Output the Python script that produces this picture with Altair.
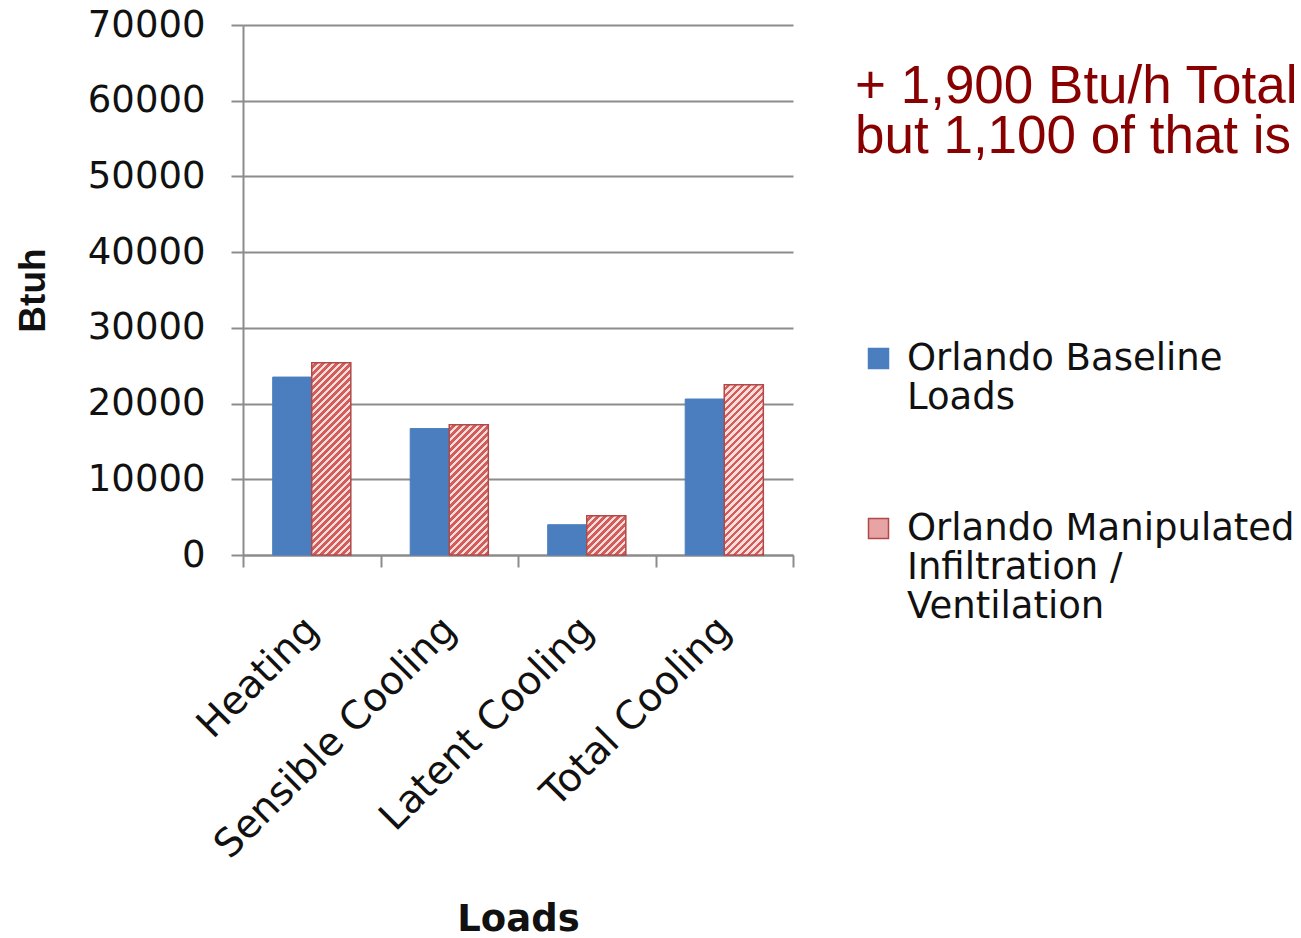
import altair as alt
import pandas as pd

# ---- data -------------------------------------------------------------
categories = ["Heating", "Sensible Cooling", "Latent Cooling", "Total Cooling"]
baseline_btuh = [23500, 16700, 4000, 20600]
manipulated_btuh = [25400, 17200, 5200, 22500]
# "|" marks a line break in the legend labels
series_names = ["Orlando Baseline|Loads", "Orlando Manipulated|Infiltration /|Ventilation"]
note_lines = ["+ 1,900 Btu/h Total", "but 1,100 of that is"]
y_ticks = [0, 10000, 20000, 30000, 40000, 50000, 60000, 70000]

# ---- layout / style ---------------------------------------------------
PLOT_W, PLOT_H = 550, 530
Y_MAX = 70000
SUB_PAD_OUTER = 0.76          # empty space on each side of a category's bar pair
BLUE = "#4a7ebf"
PINK = "#e8a3a4"
DARK_RED = "#b04a49"
STRIPE_DARK = "#d25e5c"
STRIPE_LIGHT = "#fbdcdb"
GRID = "#8c8c8c"
TEXT = "#111111"
STRIPE_PERIOD = 7.0  # px, measured horizontally

rows = []
for c, b, m in zip(categories, baseline_btuh, manipulated_btuh):
    rows.append({"category": c, "series": series_names[0], "btuh": b})
    rows.append({"category": c, "series": series_names[1], "btuh": m})
df = pd.DataFrame(rows)

# pixel width of one bar, from the band scale settings
step = PLOT_W / len(categories)
bar_w = step / (len(series_names) + 2 * SUB_PAD_OUTER)


def hatch(value):
    """Diagonal '/' hatching as a hard-stop linear gradient in bbox units."""
    w = bar_w
    h = value / Y_MAX * PLOT_H
    c = (w + h) / (w * w + h * h)
    dt = STRIPE_PERIOD / (w + h)
    stops = []
    k = 0
    while k * dt < 1:
        t0 = k * dt
        tm = min(1.0, t0 + dt * 0.5)
        t1 = min(1.0, t0 + dt)
        stops += [
            {"offset": round(t0, 5), "color": STRIPE_LIGHT},
            {"offset": round(tm, 5), "color": STRIPE_LIGHT},
            {"offset": round(tm, 5), "color": STRIPE_DARK},
            {"offset": round(t1, 5), "color": STRIPE_DARK},
        ]
        k += 1
    return {
        "gradient": "linear",
        "x1": 0, "y1": 0,
        "x2": round(c * w, 6), "y2": round(c * h, 6),
        "stops": stops,
    }


x_enc = alt.X(
    "category:N",
    sort=categories,
    scale=alt.Scale(domain=categories, paddingInner=0, paddingOuter=0),
    axis=alt.Axis(
        title="Loads",
        labelAngle=-45,
        labelAlign="right",
        labelBaseline="middle",
        labelPadding=56,
        labelLimit=600,
        tickBand="extent",
        tickSize=12,
        tickColor=GRID,
        tickWidth=2,
        domainColor=GRID,
        domainWidth=2,
        labelFont="DejaVu Sans",
        labelFontSize=39,
        labelColor=TEXT,
        titleFont="DejaVu Sans",
        titleFontWeight="bold",
        titleFontSize=37,
        titleColor=TEXT,
        titleY=375,
        titleBaseline="alphabetic",
        grid=False,
    ),
)
xoff_enc = alt.XOffset(
    "series:N",
    scale=alt.Scale(domain=series_names, paddingInner=0, paddingOuter=SUB_PAD_OUTER),
)
y_enc = alt.Y(
    "btuh:Q",
    scale=alt.Scale(domain=[0, Y_MAX], nice=False),
    axis=alt.Axis(
        title="Btuh",
        values=y_ticks,
        format="d",
        grid=True,
        gridColor=GRID,
        gridWidth=2,
        tickSize=12,
        tickColor=GRID,
        tickWidth=2,
        domainColor=GRID,
        domainWidth=2,
        labelPadding=26,
        labelFont="DejaVu Sans",
        labelFontSize=37,
        labelColor=TEXT,
        titleFont="Liberation Sans",
        titleFontWeight="bold",
        titleFontSize=37,
        titleColor=TEXT,
        titleX=-210,
        titleY=PLOT_H / 2,
        titleAlign="center",
        titleBaseline="middle",
        titleAngle=270,
    ),
)

legend = alt.Legend(
    title=None,
    orient="none",
    legendX=617,
    legendY=315,
    direction="vertical",
    symbolType="square",
    symbolSize=400,
    symbolStrokeWidth=1.5,
    labelExpr="split(datum.label, '|')",
    labelFont="DejaVu Sans",
    labelFontSize=37,
    labelColor=TEXT,
    labelLimit=600,
    labelOffset=10,
    labelBaseline="middle",
    rowPadding=93,
)

base_bars = (
    alt.Chart(df)
    .transform_filter(alt.datum.series == series_names[0])
    .mark_bar(strokeWidth=1)
    .encode(
        x=x_enc,
        xOffset=xoff_enc,
        y=y_enc,
        color=alt.Color("series:N", scale=alt.Scale(domain=series_names, range=[BLUE, PINK]), legend=legend),
        stroke=alt.Stroke("series:N", scale=alt.Scale(domain=series_names, range=[BLUE, DARK_RED]), legend=legend),
    )
)

hatched_bars = [
    alt.Chart(df)
    .transform_filter((alt.datum.series == series_names[1]) & (alt.datum.category == cat))
    .mark_bar(fill=hatch(val), stroke=DARK_RED, strokeWidth=1.5)
    .encode(x=x_enc, xOffset=xoff_enc, y=y_enc)
    for cat, val in zip(categories, manipulated_btuh)
]

note = (
    alt.Chart(pd.DataFrame({"note": [note_lines]}))
    .mark_text(
        align="left",
        baseline="alphabetic",
        font="Liberation Sans",
        fontSize=53,
        lineHeight=50,
        color="#880000",
    )
    .encode(text="note", x=alt.value(612), y=alt.value(78))
)

chart = (
    alt.layer(base_bars, *hatched_bars, note)
    .properties(
        width=PLOT_W,
        height=PLOT_H,
        autosize=alt.AutoSizeParams(type="none"),
        padding={"left": 243, "top": 25, "right": 508, "bottom": 383},
        background="white",
    )
    .configure_view(stroke=None)
)

chart.save("out.html", embed_options={"renderer": "svg", "actions": False})
